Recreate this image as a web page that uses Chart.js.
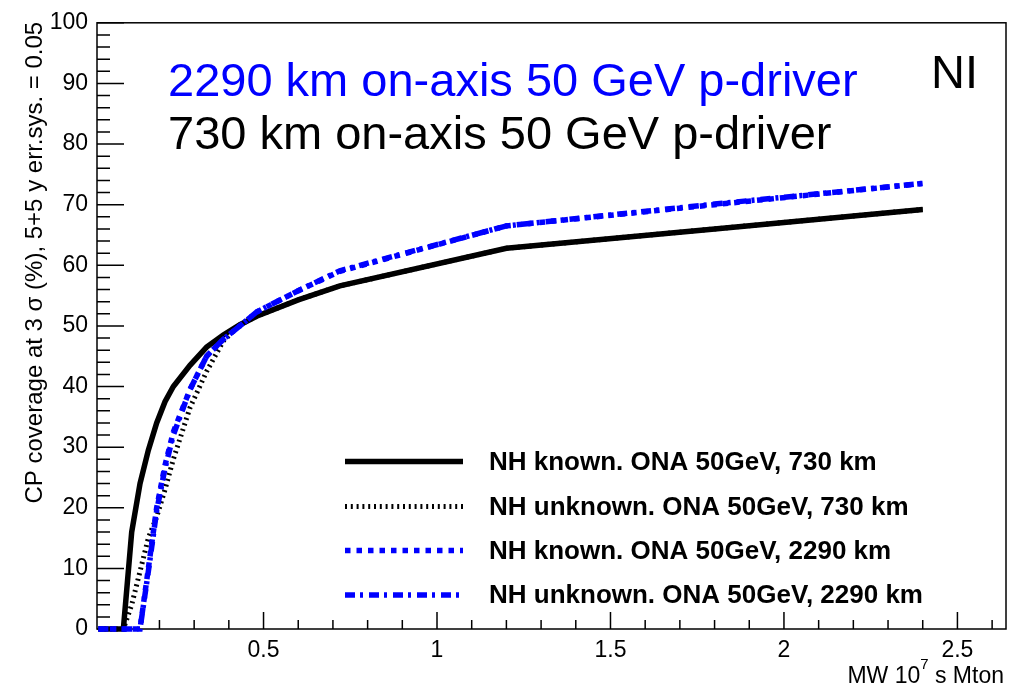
<!DOCTYPE html>
<html>
<head>
<meta charset="utf-8">
<title>CP coverage vs exposure</title>
<script src="https://cdn.jsdelivr.net/npm/chart.js@4.4.1/dist/chart.umd.min.js"></script>
<style>
  html, body { margin: 0; padding: 0; background: #fff; }
  canvas { display: block; }
</style>
</head>
<body>
<canvas id="cpChart" width="1016" height="688"></canvas>
<script>
// exposure in MW 10^7 s Mton
const exposure = [0.024, 0.048, 0.072, 0.096, 0.12, 0.144, 0.168, 0.192, 0.216, 0.24, 0.288, 0.336, 0.384, 0.432, 0.48, 0.6, 0.72, 1.2, 1.8, 2.4];

// CP coverage (%) at 3 sigma
const knownNH730 = [0, 0, 0, 0, 16, 24, 29.5, 34, 37.5, 40, 43.5, 46.5, 48.5, 50.2, 51.6, 54.3, 56.6, 62.8, 66, 69.2];
const unknownNH730 = [0, 0, 0, 0, 4, 9.5, 15, 18.5, 23, 28, 36.5, 42.5, 47.5, 50.2, 51.6, 54.3, 56.6, 62.8, 66, 69.2];
const knownNH2290 = [0, 0, 0, 0, 0, 0, 10, 20, 27, 32.5, 39.5, 45, 47.8, 50, 52.3, 55.8, 59, 66.5, 70, 73.5];
const unknownNH2290 = [0, 0, 0, 0, 0, 0, 9.5, 19.5, 26.5, 32, 39.5, 45, 47.8, 50, 52.3, 55.8, 59.1, 66.5, 70.1, 73.5];

const xTickLabels = [0.5, 1, 1.5, 2, 2.5];
const yTickLabels = [0, 10, 20, 30, 40, 50, 60, 70, 80, 90, 100];

const seriesNames = [
  'NH known. ONA 50GeV, 730 km',
  'NH unknown. ONA 50GeV, 730 km',
  'NH known. ONA 50GeV, 2290 km',
  'NH unknown. ONA 50GeV, 2290 km'
];

const FONT = "'Liberation Sans', Arial, Helvetica, sans-serif";
const BLUE = '#0000ff';

const styles = [
  { color: '#000', width: 5.5, dash: [] },
  { color: '#000', width: 5, dash: [2, 3.8] },
  { color: BLUE, width: 5.5, dash: [5.5, 6] },
  { color: BLUE, width: 5.5, dash: [10, 5, 3, 6] }
];

const points = ys => exposure.map((x, i) => ({ x: x, y: ys[i] }));
const allSeries = [knownNH730, unknownNH730, knownNH2290, unknownNH2290];

const datasets = allSeries.map((ys, i) => ({
  label: seriesNames[i],
  data: points(ys),
  borderColor: styles[i].color,
  borderWidth: styles[i].width,
  borderDash: styles[i].dash,
  pointRadius: 0,
  tension: 0,
  fill: false,
  clip: false,
  order: 4 - i   // later series drawn on top
}));

// frame with inward ticks, titles and in-plot legend
const rootFrame = {
  id: 'rootFrame',
  beforeDatasetsDraw(chart) {
    const { ctx, chartArea: a, scales: { x, y } } = chart;
    ctx.save();
    ctx.strokeStyle = '#000';
    ctx.lineWidth = 1.5;
    ctx.strokeRect(a.left, a.top, a.right - a.left, a.bottom - a.top);
    ctx.beginPath();
    for (let v = 0; v <= 100; v += 2) {
      const py = y.getPixelForValue(v);
      const len = v % 10 === 0 ? 27 : 13;
      ctx.moveTo(a.left, py);
      ctx.lineTo(a.left + len, py);
    }
    for (let i = 1; i <= 26; i++) {
      const px = x.getPixelForValue(i / 10);
      const len = i % 5 === 0 ? 17 : 9;
      ctx.moveTo(px, a.bottom);
      ctx.lineTo(px, a.bottom - len);
    }
    ctx.stroke();
    ctx.restore();
  },
  afterDraw(chart) {
    const { ctx, chartArea: a } = chart;
    ctx.save();
    ctx.textBaseline = 'alphabetic';

    // headline text
    ctx.font = '47px ' + FONT;
    ctx.fillStyle = BLUE;
    ctx.textAlign = 'left';
    ctx.fillText('2290 km on-axis 50 GeV p-driver', 168, 96);
    ctx.fillStyle = '#000';
    ctx.fillText('730 km on-axis 50 GeV p-driver', 168, 149);
    ctx.fillText('NI', 931, 88);

    // y axis title, aligned to the top of the axis
    ctx.save();
    ctx.translate(42, a.top - 1);
    ctx.rotate(-Math.PI / 2);
    ctx.font = '24px ' + FONT;
    ctx.textAlign = 'right';
    ctx.fillText('CP coverage at 3 \u03c3 (%), 5+5 y err.sys. = 0.05', 0, 0);
    ctx.restore();

    // x axis title with superscript
    const parts = [['MW 10', 23, 0], ['7', 15, -14], [' s Mton', 23, 0]];
    let w = 0;
    parts.forEach(p => { ctx.font = p[1] + 'px ' + FONT; w += ctx.measureText(p[0]).width; });
    let cx = a.right - 2 - w;
    ctx.textAlign = 'left';
    parts.forEach(p => {
      ctx.font = p[1] + 'px ' + FONT;
      ctx.fillText(p[0], cx, 683 + p[2]);
      cx += ctx.measureText(p[0]).width;
    });

    // legend
    const rows = [461.5, 506.5, 550.5, 595];
    ctx.font = 'bold 26px ' + FONT;
    ctx.textBaseline = 'middle';
    seriesNames.forEach((name, i) => {
      const st = styles[i];
      ctx.beginPath();
      ctx.strokeStyle = st.color;
      ctx.lineWidth = st.width;
      ctx.setLineDash(st.dash);
      ctx.moveTo(345, rows[i]);
      ctx.lineTo(463, rows[i]);
      ctx.stroke();
      ctx.setLineDash([]);
      ctx.fillStyle = '#000';
      ctx.fillText(name, 489, rows[i] + 1);
    });
    ctx.restore();
  }
};

Chart.defaults.font.family = FONT;
Chart.defaults.color = '#000';

new Chart(document.getElementById('cpChart').getContext('2d'), {
  type: 'line',
  data: { datasets: datasets },
  options: {
    responsive: false,
    animation: false,
    layout: { padding: { left: 0, right: 10, top: 14, bottom: 0 } },
    plugins: {
      legend: { display: false },
      tooltip: { enabled: false }
    },
    scales: {
      x: {
        type: 'linear',
        min: 0.02,
        max: 2.64,
        grid: { display: false, drawTicks: false },
        border: { display: false },
        afterBuildTicks: s => { s.ticks = xTickLabels.map(v => ({ value: v })); },
        afterFit: s => { s.height = 59; },
        ticks: {
          padding: 8,
          autoSkip: false,
          maxRotation: 0,
          font: { size: 23 },
          color: '#000',
          callback: v => String(v)
        }
      },
      y: {
        type: 'linear',
        min: 0,
        max: 100,
        grid: { display: false, drawTicks: false },
        border: { display: false },
        afterBuildTicks: s => { s.ticks = yTickLabels.map(v => ({ value: v })); },
        afterFit: s => { s.width = 97; },
        ticks: {
          padding: 9,
          autoSkip: false,
          font: { size: 23 },
          color: '#000',
          callback: v => String(v)
        }
      }
    }
  },
  plugins: [rootFrame]
});
</script>
</body>
</html>
